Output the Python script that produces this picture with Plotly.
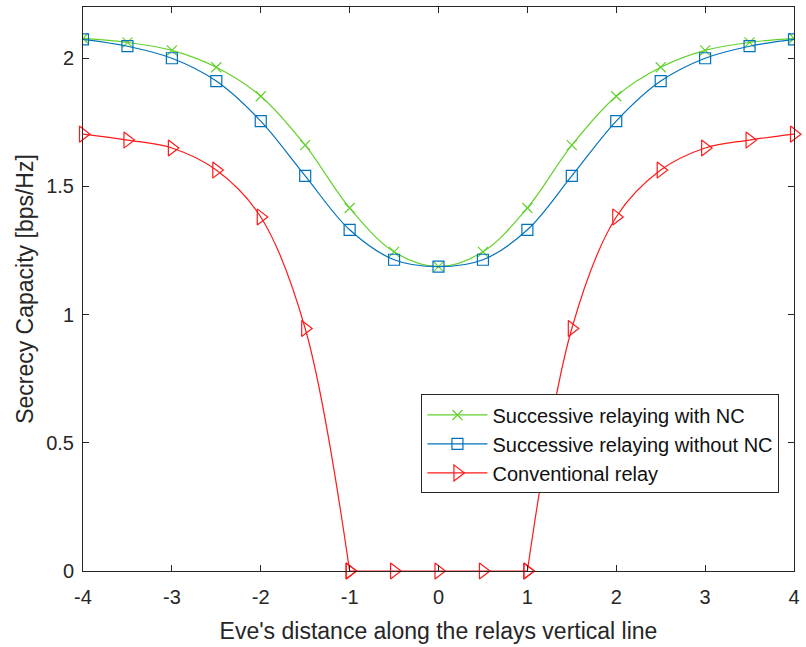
import plotly.graph_objects as go

# Eve's position along the relays' vertical line
distance = [-4, -3.5, -3, -2.5, -2, -1.5, -1, -0.5, 0, 0.5, 1, 1.5, 2, 2.5, 3, 3.5, 4]

# Secrecy capacity [bps/Hz]
with_nc = [2.078, 2.062, 2.031, 1.965, 1.852, 1.661, 1.416, 1.245, 1.187,
           1.245, 1.416, 1.661, 1.852, 1.965, 2.031, 2.062, 2.078]
without_nc = [2.074, 2.047, 2.0, 1.911, 1.755, 1.541, 1.331, 1.214, 1.187,
              1.214, 1.331, 1.541, 1.755, 1.911, 2.0, 2.047, 2.074]
conventional = [1.704, 1.681, 1.650, 1.564, 1.381, 0.946, 0.0, 0.0, 0.0,
                0.0, 0.0, 0.946, 1.381, 1.564, 1.650, 1.681, 1.704]

x_ticks = [-4, -3, -2, -1, 0, 1, 2, 3, 4]
y_ticks = [0, 0.5, 1, 1.5, 2]

GREEN = "#63d12c"
BLUE = "#0072bd"
RED = "#ff1a1a"
AXIS = "#262626"
FONT = "Liberation Sans, Arial, sans-serif"

fig = go.Figure()

fig.add_trace(go.Scatter(
    x=distance, y=with_nc, mode="lines+markers", name="Successive relaying with NC",
    line=dict(color=GREEN, width=1.2, shape="spline"),
    marker=dict(symbol="x-thin-open", size=10, line=dict(color=GREEN, width=1.2)),
))
fig.add_trace(go.Scatter(
    x=distance, y=without_nc, mode="lines+markers", name="Successive relaying without NC",
    line=dict(color=BLUE, width=1.2, shape="spline"),
    marker=dict(symbol="square-open", size=11, color=BLUE, line=dict(width=1.2)),
))

# conventional relay: smooth flanks, flat zero region in the middle
i_lo = distance.index(-1)
i_hi = distance.index(1)
red_marker = dict(symbol="triangle-right-open", size=14, color=RED, line=dict(width=1.2))
segments = [
    (distance[:i_lo + 1], conventional[:i_lo + 1], "spline", True),
    (distance[i_lo:i_hi + 1], conventional[i_lo:i_hi + 1], "linear", False),
    (distance[i_hi:], conventional[i_hi:], "spline", False),
]
for xs, ys, shape, show in segments:
    fig.add_trace(go.Scatter(
        x=xs, y=ys, mode="lines+markers", name="Conventional relay",
        legendgroup="conv", showlegend=show,
        line=dict(color=RED, width=1.2, shape=shape),
        marker=red_marker, cliponaxis=False,
    ))

axis_common = dict(
    showline=True, linecolor=AXIS, linewidth=1, mirror="ticks",
    ticks="inside", ticklen=6, tickcolor=AXIS, tickwidth=1,
    showgrid=False, zeroline=False,
    tickfont=dict(family=FONT, size=20, color=AXIS),
)

fig.update_layout(
    width=806, height=647,
    margin=dict(l=83, r=8, t=6, b=76),
    paper_bgcolor="white", plot_bgcolor="white",
    font=dict(family=FONT, color=AXIS),
    xaxis=dict(range=[-4, 4], tickvals=x_ticks, ticktext=[str(v) for v in x_ticks],
               ticklabelstandoff=8,
               title=dict(text="Eve's distance along the relays vertical line",
                          font=dict(family=FONT, size=23, color=AXIS), standoff=15),
               **axis_common),
    yaxis=dict(range=[0, 2.2], tickvals=y_ticks, ticktext=["0", "0.5", "1", "1.5", "2"],
               ticklabelstandoff=4,
               title=dict(text="Secrecy Capacity [bps/Hz]",
                          font=dict(family=FONT, size=23, color=AXIS), standoff=6),
               **axis_common),
    legend=dict(x=0.476, y=0.313, xanchor="left", yanchor="top",
                bgcolor="white", bordercolor=AXIS, borderwidth=1,
                font=dict(family=FONT, size=20, color="#111111"),
                tracegroupgap=0, itemwidth=60),
    showlegend=True,
)

fig.write_html("out.html")
